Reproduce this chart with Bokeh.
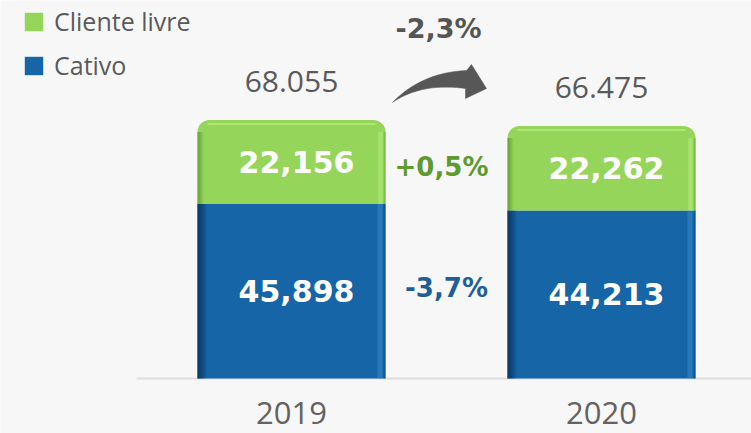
from bokeh.plotting import figure
from bokeh.models import Legend, LegendItem, Range1d
from bokeh.core.properties import value
from bokeh.embed import file_html
from bokeh.resources import INLINE

# ---------------- data ----------------
years = ["2019", "2020"]
cativo = [45.898, 44.213]
livre = [22.156, 22.262]
cativo_labels = ["45,898", "44,213"]
livre_labels = ["22,156", "22,262"]
total_labels = ["68.055", "66.475"]
series_names = ["Cliente livre", "Cativo"]

totals = [c + l for c, l in zip(cativo, livre)]
xs = list(range(len(years)))


def pct(a, b):
    v = (b / a - 1) * 100
    s = f"{v:+.1f}".replace(".", ",")
    return s + "%"


pct_total = pct(totals[0], totals[1])
pct_livre = pct(livre[0], livre[1])
pct_cativo = pct(cativo[0], cativo[1])

# ---------------- geometry / style ----------------
W, H = 751, 433
PX_X = 310.0      # pixels per category step
PX_Y = 3.8        # pixels per data unit
X0_PX = 291.0     # first category centre from left of frame
BASE_PX = 378.0   # baseline from top of frame


def dx(px):
    return px / PX_X


def dy(px):
    return px / PX_Y


GREEN = "#95D65A"
BLUE = "#1565A7"
GREY = "#5A5A5A"
BAR_W = dx(188)

p = figure(width=W, height=H, output_backend="svg", toolbar_location=None,
           x_range=Range1d(-X0_PX / PX_X, (W - X0_PX) / PX_X),
           y_range=Range1d(-(H - BASE_PX) / PX_Y, BASE_PX / PX_Y),
           min_border=0)
p.axis.visible = False
p.grid.visible = False
p.outline_line_color = None
p.background_fill_color = "#F7F7F7"
p.border_fill_color = "#F7F7F7"

# baseline
p.segment(x0=[xs[0] - 0.5], y0=[0], x1=[p.x_range.end], y1=[0],
          line_color="#DEDEDE", line_width=2)

# bars
r_cat = p.vbar(x=xs, bottom=0, top=cativo, width=BAR_W, fill_color=BLUE,
               line_color=None)
r_liv = p.vbar(x=xs, bottom=cativo, top=totals, width=BAR_W, fill_color=GREEN,
               line_color=None, border_radius=(12, 12, 0, 0))


# shading strips
def strips(bottoms, tops, start_px, n, color, a0, from_right=False, fade=True):
    L, R, B, T, A = [], [], [], [], []
    for i in xs:
        left_edge = xs[i] - BAR_W / 2
        right_edge = xs[i] + BAR_W / 2
        for k in range(n):
            if from_right:
                r = right_edge - dx(start_px + k)
                l = r - dx(1)
            else:
                l = left_edge + dx(start_px + k)
                r = l + dx(1)
            L.append(l); R.append(r); B.append(bottoms[i]); T.append(tops[i])
            A.append(a0 * (1 - k / n) if fade else a0)
    p.quad(left=L, right=R, bottom=B, top=T, fill_color=color, fill_alpha=A,
           line_color=None)


zeros = [0 for _ in xs]
# blue left dark gradient
strips(zeros, cativo, 0, 9, "#04284A", 0.85)
# blue right light + dark edge
strips(zeros, cativo, 3, 5, "#4A95D6", 0.45, from_right=True, fade=False)
strips(zeros, cativo, 0, 2, "#0C4B84", 0.7, from_right=True)
# green left dark gradient (below corner)
g_tops = [t - dy(12) for t in totals]
strips(cativo, g_tops, 0, 6, "#3F7D1A", 0.6)
strips(cativo, g_tops, 3, 4, "#C2F391", 0.5, from_right=True, fade=False)
strips(cativo, g_tops, 0, 2, "#5E9A2E", 0.6, from_right=True)
# green top highlight
p.quad(left=[x - BAR_W / 2 + dx(10) for x in xs],
       right=[x + BAR_W / 2 - dx(10) for x in xs],
       bottom=[t - dy(5) for t in totals], top=[t - dy(3) for t in totals],
       fill_color="#BDF486", fill_alpha=0.6, line_color=None)

BOLD = value("DejaVu Sans")
REG = value("Open Sans")

# value labels inside bars
p.text(x=[x + dx(5) for x in xs], y=[l / 2 + c for l, c in zip(livre, cativo)],
       text=livre_labels, text_font=BOLD, text_font_style="bold",
       text_font_size="30px", text_color="white", text_align="center",
       text_baseline="middle")
p.text(x=[x + dx(5) for x in xs], y=[c / 2 for c in cativo],
       text=cativo_labels, text_font=BOLD, text_font_style="bold",
       text_font_size="30px", text_color="white", text_align="center",
       text_baseline="middle")

# totals above bars
p.text(x=xs, y=[t + dy(38) for t in totals], text=total_labels,
       text_font=REG, text_font_size="30px", text_color=GREY,
       text_align="center", text_baseline="middle")

# year labels
p.text(x=xs, y=[-dy(34) for _ in xs], text=years, text_font=REG,
       text_font_size="31px", text_color="#636363", text_align="center",
       text_baseline="middle")

# percent changes
mid = (xs[0] + xs[1]) / 2
p.text(x=[mid - dx(8)], y=[max(totals) + dy(91)], text=[pct_total],
       text_font=BOLD, text_font_style="bold", text_font_size="27px",
       text_color="#555555", text_align="center", text_baseline="middle")
p.text(x=[mid - dx(5)],
       y=[sum(c + l / 2 for c, l in zip(cativo, livre)) / 2 - dy(2)],
       text=[pct_livre], text_font=BOLD, text_font_style="bold",
       text_font_size="26px", text_color="#5E9A2E", text_align="center",
       text_baseline="middle")
p.text(x=[mid], y=[sum(c / 2 for c in cativo) / 2 + dy(5)],
       text=[pct_cativo], text_font=BOLD, text_font_style="bold",
       text_font_size="26px", text_color="#1F5E98", text_align="center",
       text_baseline="middle")


# curved arrow (pixel offsets relative to first bar centre / baseline)
def qbez(p0, c, p1, n=20):
    pts = []
    for i in range(n + 1):
        t = i / n
        x = (1 - t) ** 2 * p0[0] + 2 * (1 - t) * t * c[0] + t ** 2 * p1[0]
        y = (1 - t) ** 2 * p0[1] + 2 * (1 - t) * t * c[1] + t ** 2 * p1[1]
        pts.append((x, y))
    return pts


T0 = (101, 276)
upper = qbez(T0, (130, 306), (175, 308))
head = [(180, 314), (195, 290), (174, 280)]
lower = qbez((174, 290), (130, 296), T0)
poly = upper + head + lower
p.patch(x=[xs[0] + dx(a) for a, b in poly], y=[dy(b) for a, b in poly],
        fill_color="#575757", line_color="#575757", line_width=0.5)

# legend
legend = Legend(items=[LegendItem(label=series_names[0], renderers=[r_liv]),
                       LegendItem(label=series_names[1], renderers=[r_cat])],
                location=(22, H - 82), orientation="vertical",
                glyph_width=23, glyph_height=23, label_standoff=9,
                spacing=10, padding=0, margin=0,
                label_text_font="Open Sans", label_text_font_size="25px",
                label_text_color=GREY, background_fill_alpha=0,
                border_line_alpha=0)
p.add_layout(legend)

open("out.html", "w").write(file_html(p, INLINE))
